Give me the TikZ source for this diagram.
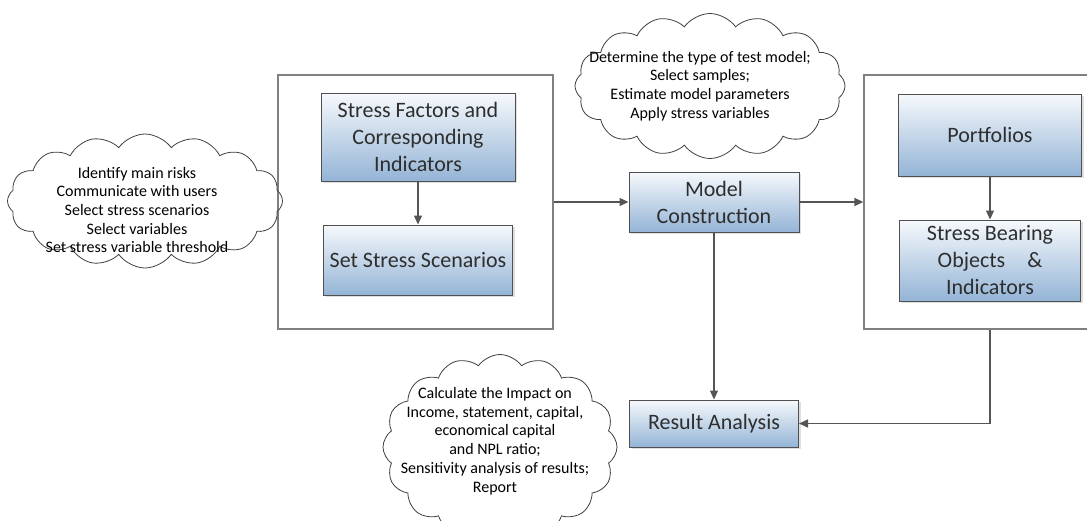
\documentclass[tikz,border=0pt]{standalone}
\usepackage{fontspec}
\setmainfont{Carlito}
\usetikzlibrary{arrows.meta,shapes.symbols,shadows}
\definecolor{boxtop}{HTML}{F6F9FC}
\definecolor{boxbot}{HTML}{94B4D6}
\definecolor{boxline}{HTML}{505050}
\definecolor{conn}{HTML}{555555}
\definecolor{txt}{HTML}{2E2E2E}
\tikzset{
  bluebox/.style={draw=boxline, line width=1pt, top color=boxtop, bottom color=boxbot,
    align=center, text=txt, font=\fontsize{22}{27}\selectfont,
    drop shadow={opacity=0.25, shadow xshift=2pt, shadow yshift=-2pt}},
  framebox/.style={draw=gray, line width=1.3pt, fill=white},
  cloudshape/.style={cloud, draw=black!75, line width=0.8pt, cloud puffs=16, cloud puff arc=110,
    cloud ignores aspect, inner sep=0pt},
  cloudtext/.style={align=center, font=\fontsize{16}{18.7}\selectfont, text=black},
  arr/.style={draw=conn, line width=1.3pt, -{Triangle[length=9pt,width=8pt]}},
}
\begin{document}
\begin{tikzpicture}[x=1pt,y=-1pt]
\useasboundingbox (0,0) rectangle (1087,520);
\clip (0,0) rectangle (1087,520);
\fill[white] (0,0) rectangle (1087,520);
% frames
\node[framebox, minimum width=275pt, minimum height=254pt] (L) at (415.5,202) {};
\node[framebox, minimum width=260pt, minimum height=254pt] (R) at (994,202) {};
% boxes
\node[bluebox, minimum width=194pt, minimum height=88pt] (SF) at (418,137) {Stress Factors and\\Corresponding\\Indicators};
\node[bluebox, minimum width=189pt, minimum height=70pt] (SS) at (418,260) {Set Stress Scenarios};
\node[bluebox, minimum width=170pt, minimum height=60pt] (MC) at (714,202) {Model\\Construction};
\node[bluebox, minimum width=183pt, minimum height=82pt] (PF) at (990,135) {Portfolios};
\node[bluebox, minimum width=181pt, minimum height=81pt] (SB) at (990,260.5) {Stress Bearing\\Objects\quad\&\\Indicators};
\node[bluebox, minimum width=169pt, minimum height=47pt] (RA) at (714,423.5) {Result Analysis};
% clouds
\node[cloudshape, minimum width=275pt, minimum height=134pt] (C1) at (145,201) {};
\node[cloudtext] (T1) at (137,210) {Identify main risks\\Communicate with users\\Select stress scenarios\\Select variables\\Set stress variable threshold};
\node[cloudshape, minimum width=270pt, minimum height=145pt] (C2) at (710,86) {};
\node[cloudtext] (T2) at (700,86) {Determine the type of test model;\\Select samples;\\Estimate model parameters\\Apply stress variables};
\node[cloudshape, minimum width=234pt, minimum height=185pt] (C3) at (500,447) {};
\node[cloudtext] (T3) at (495,441) {Calculate the Impact on\\Income, statement, capital,\\economical capital\\and NPL ratio;\\Sensitivity analysis of results;\\Report};
% connectors
\draw[arr] (SF.south) -- (SS.north);
\draw[arr] (L.east) -- (MC.west);
\draw[arr] (MC.east) -- (R.west);
\draw[arr] (PF.south) -- (SB.north);
\draw[arr] (MC.south) -- (RA.north);
\draw[arr] (PF.center |- R.south) |- (RA.east);
\end{tikzpicture}
\end{document}
